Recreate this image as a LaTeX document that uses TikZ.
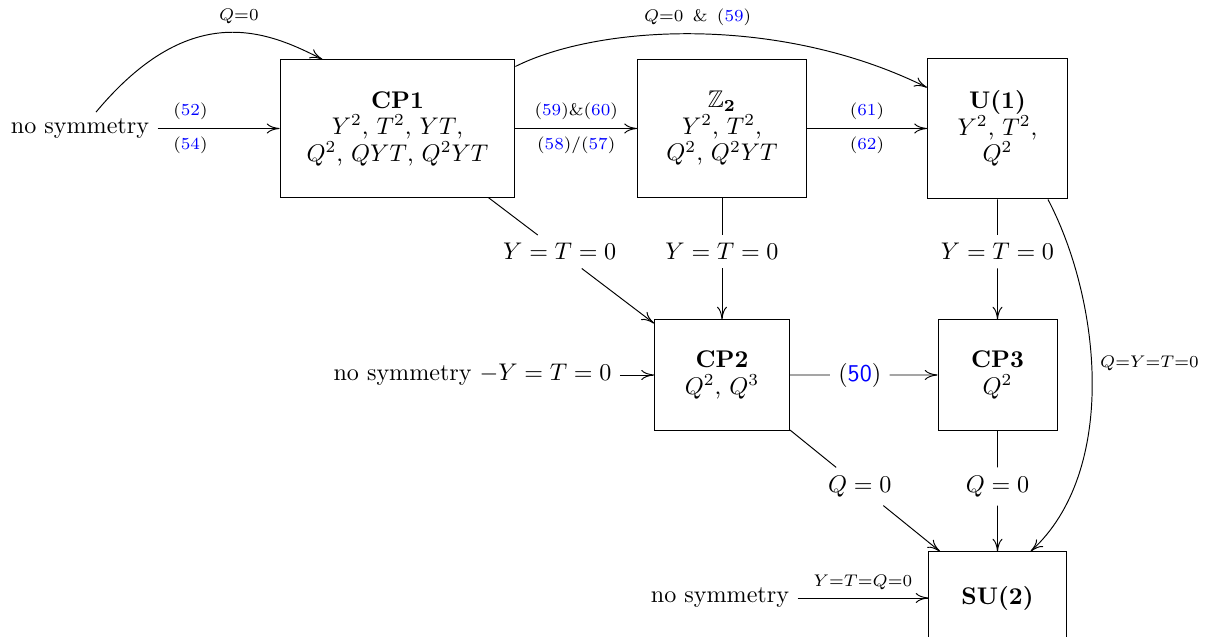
\documentclass[tikz,border=0pt]{standalone}
\usepackage{amssymb}
\usetikzlibrary{calc,arrows.meta}
\begin{document}
\begin{tikzpicture}[x=0.415pt,y=-0.415pt,
  >={Computer Modern Rightarrow[length=5.3pt,width=4.2pt]},
  box/.style={draw, align=center, inner sep=2pt, font=\fontsize{10pt}{11pt}\selectfont},
  sm/.style={font=\scriptsize}]
\useasboundingbox (0,0) rectangle (1210,637);
% boxes
\node[box, minimum width=97.5pt, minimum height=56.9pt] (CP1) at (397.5,128.5)
  {\textbf{CP1}\\ $Y^2$, $T^2$, $YT$,\\ $Q^2$, $QYT$, $Q^2YT$};
\node[box, minimum width=70.1pt, minimum height=56.9pt] (Z2) at (722,128.5)
  {$\mathbb{Z}_{\mathbf{2}}$\\ $Y^2$, $T^2$,\\ $Q^2$, $Q^2YT$};
\node[box, minimum width=58.1pt, minimum height=58.5pt] (U1) at (997.5,128.5)
  {\textbf{U(1)}\\ $Y^2$, $T^2$,\\ $Q^2$};
\node[box, minimum width=56pt, minimum height=45.7pt] (CP2) at (722,375)
  {\textbf{CP2}\\ $Q^2$, $Q^3$};
\node[box, minimum width=49.4pt, minimum height=45.7pt] (CP3) at (997.5,375)
  {\textbf{CP3}\\ $Q^2$};
\node[box, minimum width=56.9pt, minimum height=38.2pt] (SU2) at (997.5,598)
  {\textbf{SU(2)}};
% free texts
\node (ns1) at (80,128.5) {no symmetry};
\node (ns2) at (472.5,375) {no symmetry $-Y=T=0$};
\node (ns3) at (720,598) {no symmetry};
% straight arrows with labels
\draw[->] (ns1) -- node[pos=0.27, above, sm] (l52) {(\textcolor{blue}{52})}
  node[pos=0.27, below, sm] (l54) {(\textcolor{blue}{54})} (CP1);
\draw[->] (CP1) -- node[above, sm] (l5960) {(\textcolor{blue}{59})\&(\textcolor{blue}{60})}
  node[below, sm] (l5857) {(\textcolor{blue}{58})/(\textcolor{blue}{57})} (Z2);
\draw[->] (Z2) -- node[above, sm] (l61) {(\textcolor{blue}{61})}
  node[below, sm] (l62) {(\textcolor{blue}{62})} (U1);
\draw[->] (ns2) -- (CP2);
\draw[->] (ns3) -- node[above, sm] (lytq) {$Y{=}T{=}Q{=}0$} (SU2);
% curved arrows
\draw[->] ($(ns1.north)+(16,2)$) .. controls +(96,-115) and +(-53,-27) ..
  node[pos=0.56, above, sm] (lq0a) {$Q{=}0$} ($(CP1.north west)+(43,0)$);
\draw[->] ($(CP1.north east)+(0,7)$) .. controls +(84,-42) and +(-147,-73) ..
  node[pos=0.5, above, sm] (lq0b) {$Q{=}0$ \,\&\, (\textcolor{blue}{59})} ($(U1.north west)+(0,30)$);
\draw[->] ($(U1.south east)+(-20,0)$) .. controls +(53,101) and +(88,-80) ..
  node[pos=0.45, right, sm] (lqyt) {$Q{=}Y{=}T{=}0$} ($(SU2.north east)+(-36,0)$);
% split connectors
\node (lyt1) at ($(CP1)!0.5!(CP2)$) {$Y=T=0$};
\node (lyt2) at ($(Z2)!0.5!(CP2)$) {$Y=T=0$};
\node (lyt3) at ($(U1)!0.5!(CP3)$) {$Y=T=0$};
\node (l50) at ($(CP2)!0.5!(CP3)$) {(\textcolor{blue}{\textsf{50}})};
\node (lq1) at ($(CP2)!0.5!(SU2)$) {$Q=0$};
\node (lq2) at ($(CP3)!0.5!(SU2)$) {$Q=0$};
\draw (CP1) -- (lyt1); \draw[->] (lyt1) -- (CP2);
\draw (Z2) -- (lyt2); \draw[->] (lyt2) -- (CP2);
\draw (U1) -- (lyt3); \draw[->] (lyt3) -- (CP3);
\draw (CP2) -- (l50); \draw[->] (l50) -- (CP3);
\draw (CP2) -- (lq1); \draw[->] (lq1) -- (SU2);
\draw (CP3) -- (lq2); \draw[->] (lq2) -- (SU2);
\end{tikzpicture}
\end{document}
